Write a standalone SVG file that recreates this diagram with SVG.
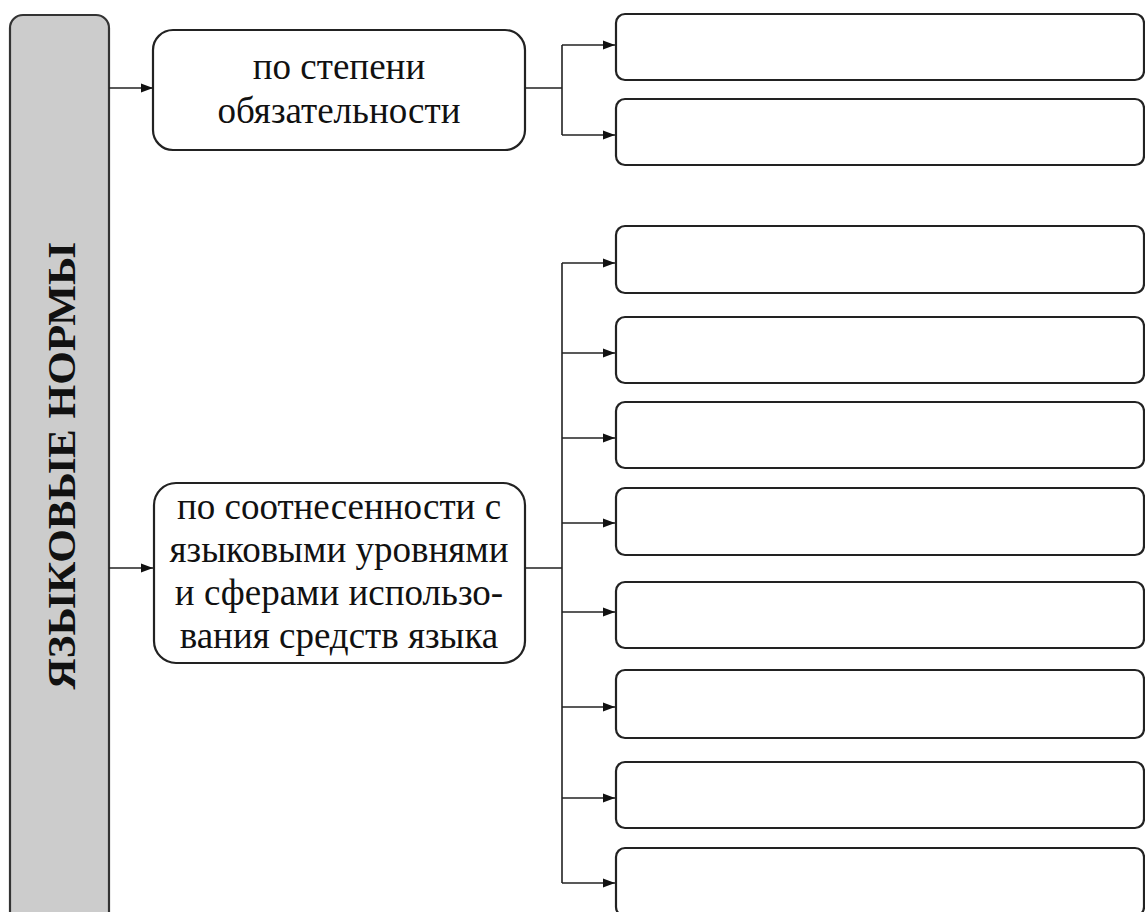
<svg xmlns="http://www.w3.org/2000/svg" width="1145" height="912" viewBox="0 0 1145 912">
<style>
.box{fill:#fff;stroke:#222;stroke-width:2.2}
.root{fill:#cccccc;stroke:#333;stroke-width:2.2}
.ln{fill:none;stroke:#222;stroke-width:1.6}
.t{font-family:'Liberation Serif','DejaVu Serif',serif;font-size:37px;fill:#111;text-anchor:middle}
.tv{font-family:'Liberation Serif','DejaVu Serif',serif;font-size:40px;font-weight:bold;fill:#111;text-anchor:middle}
</style>
<defs>
<marker id="ah" viewBox="0 0 12 10" refX="12" refY="5" markerWidth="12" markerHeight="10" markerUnits="userSpaceOnUse" orient="auto">
<path d="M0,0.5 L12,5 L0,9.5 Z" fill="#111"/>
</marker>
</defs>
<rect width="1145" height="912" fill="#fff"/>
<g id="root">
<rect class="root" x="10" y="15" width="99" height="910" rx="13"/>
<text class="tv" transform="translate(75,466) rotate(-90)" textLength="447" lengthAdjust="spacingAndGlyphs">ЯЗЫКОВЫЕ НОРМЫ</text>
</g>
<g id="n1">
<rect class="box" x="153" y="30" width="372" height="120" rx="20"/>
<text class="t" x="339" y="79">по степени</text>
<text class="t" x="339" y="123">обязательности</text>
</g>
<g id="n2">
<rect class="box" x="154" y="483" width="371" height="180" rx="22"/>
<text class="t" x="339" y="519">по соотнесенности с</text>
<text class="t" x="339" y="562">языковыми уровнями</text>
<text class="t" x="339" y="605">и сферами использо-</text>
<text class="t" x="339" y="648">вания средств языка</text>
</g>
<g id="r1"><rect class="box" x="616" y="14" width="528" height="66" rx="9"/></g>
<g id="r2"><rect class="box" x="616" y="99" width="528" height="66" rx="9"/></g>
<g id="r3"><rect class="box" x="616" y="226" width="528" height="67" rx="9"/></g>
<g id="r4"><rect class="box" x="616" y="317" width="528" height="66" rx="9"/></g>
<g id="r5"><rect class="box" x="616" y="402" width="528" height="66" rx="9"/></g>
<g id="r6"><rect class="box" x="616" y="488" width="528" height="67" rx="9"/></g>
<g id="r7"><rect class="box" x="616" y="582" width="528" height="66" rx="9"/></g>
<g id="r8"><rect class="box" x="616" y="670" width="528" height="68" rx="9"/></g>
<g id="r9"><rect class="box" x="616" y="762" width="528" height="66" rx="9"/></g>
<g id="r10"><rect class="box" x="616" y="848" width="528" height="68" rx="9"/></g>
<g id="connectors">
<line class="ln" x1="109" y1="88" x2="153" y2="88" marker-end="url(#ah)"/>
<line class="ln" x1="109" y1="568" x2="153" y2="568" marker-end="url(#ah)"/>
<path class="ln" d="M525,88 H562 M562,45 V135"/>
<line class="ln" x1="562" y1="45" x2="615" y2="45" marker-end="url(#ah)"/>
<line class="ln" x1="562" y1="135" x2="615" y2="135" marker-end="url(#ah)"/>
<path class="ln" d="M525,568 H562 M562,263 V883"/>
<line class="ln" x1="562" y1="263" x2="615" y2="263" marker-end="url(#ah)"/>
<line class="ln" x1="562" y1="353" x2="615" y2="353" marker-end="url(#ah)"/>
<line class="ln" x1="562" y1="438" x2="615" y2="438" marker-end="url(#ah)"/>
<line class="ln" x1="562" y1="523" x2="615" y2="523" marker-end="url(#ah)"/>
<line class="ln" x1="562" y1="612" x2="615" y2="612" marker-end="url(#ah)"/>
<line class="ln" x1="562" y1="707" x2="615" y2="707" marker-end="url(#ah)"/>
<line class="ln" x1="562" y1="798" x2="615" y2="798" marker-end="url(#ah)"/>
<line class="ln" x1="562" y1="883" x2="615" y2="883" marker-end="url(#ah)"/>
</g>
</svg>
